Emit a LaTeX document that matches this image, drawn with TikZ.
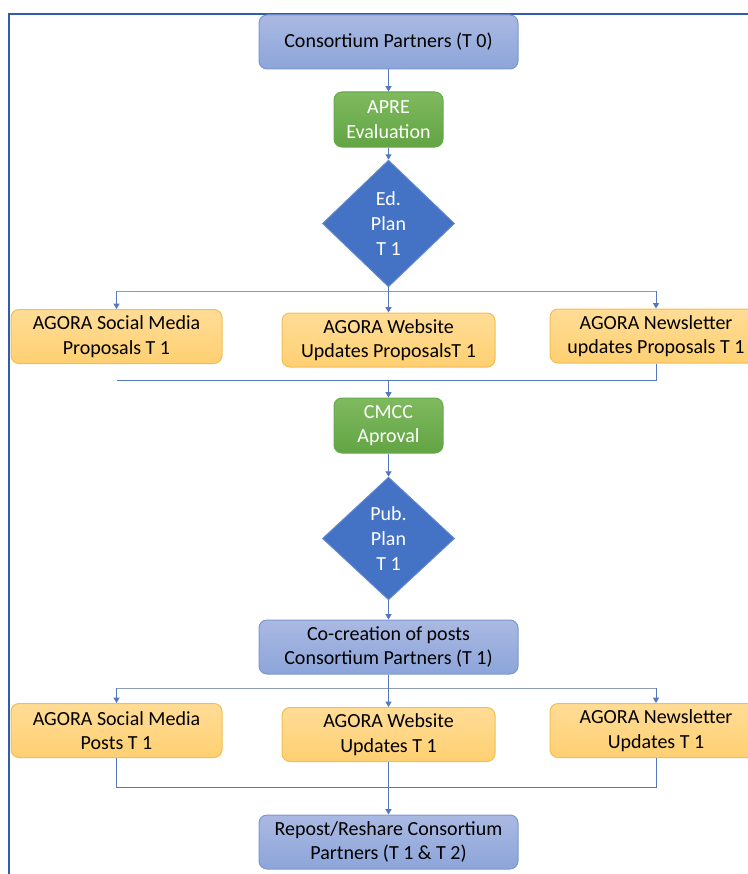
\documentclass[tikz,border=0pt]{standalone}
\usepackage{fontspec}
\setmainfont{Carlito}
\usetikzlibrary{shapes.geometric,arrows.meta}

\definecolor{frameblue}{RGB}{47,93,170}
\definecolor{boxbluetop}{RGB}{170,185,226}
\definecolor{boxbluebot}{RGB}{140,165,218}
\definecolor{boxblueline}{RGB}{124,151,208}
\definecolor{greentop}{RGB}{127,186,94}
\definecolor{greenbot}{RGB}{98,164,68}
\definecolor{greenline}{RGB}{104,168,76}
\definecolor{orangetop}{RGB}{255,220,150}
\definecolor{orangebot}{RGB}{255,208,114}
\definecolor{orangeline}{RGB}{242,190,80}
\definecolor{diamondblue}{RGB}{68,114,196}
\definecolor{linkblue}{RGB}{84,120,190}
\definecolor{forkgrey}{RGB}{140,154,178}

\tikzset{every picture/.style={line width=0.75pt}}
\tikzset{
  boxtext/.style={font=\fontsize{15}{18.5}\selectfont, align=center, inner sep=0pt},
  bluebox/.style={boxtext, draw=boxblueline, top color=boxbluetop, bottom color=boxbluebot,
    rounded corners=6pt, minimum width=194.25pt, minimum height=40.5pt},
  greenbox/.style={boxtext, draw=greenline, top color=greentop, bottom color=greenbot,
    text=white, rounded corners=6pt, minimum width=81.75pt, minimum height=41.25pt},
  orangebox/.style={boxtext, draw=orangeline, top color=orangetop, bottom color=orangebot,
    rounded corners=6pt, minimum height=40.5pt},
  decision/.style={boxtext, diamond, draw=diamondblue!85!white, fill=diamondblue,
    text=white, minimum width=99pt},
  flow/.style={draw=linkblue, -{Triangle[length=4pt,width=4.5pt]}},
  link/.style={draw=linkblue},
  forkline/.style={draw=forkgrey}
}

\begin{document}
\begin{tikzpicture}[x=0.75pt,y=0.75pt,yscale=-1,xscale=1]
\useasboundingbox (0,0) rectangle (748,874);
\clip (0,0) rectangle (748,874);

%Frame
\draw [frameblue, line width=1.5pt] (9,880) -- (9,14) -- (760,14) ;

%Nodes: first part
\node [bluebox] (partners) at (388.5,42) {Consortium Partners (T 0)};
\node [greenbox] (apre) at (388.5,119.5) {APRE\\Evaluation};
\node [decision, minimum height=95pt] (edplan) at (388.5,223.5) {Ed.\\Plan\\T 1};
\coordinate (edfork) at (388.5,291);
\node [orangebox, minimum width=158.25pt] (smprop) at (116.5,336.5) {AGORA Social Media\\Proposals T 1};
\node [orangebox, minimum width=159.75pt] (webprop) at (388.5,340) {AGORA Website\\Updates ProposalsT 1};
\node [orangebox, minimum width=159pt] (nlprop) at (656,336) {AGORA Newsletter\\updates Proposals T 1};
\coordinate (propjoin) at (388.5,380);
\node [greenbox] (cmcc) at (388.5,425.5) {CMCC\\Aproval};

%Nodes: second part
\node [decision, minimum height=92pt] (pubplan) at (388.5,538.5) {Pub.\\Plan\\T 1};
\node [bluebox] (cocreate) at (388.5,647) {Co-creation of posts\\Consortium Partners (T 1)};
\coordinate (postfork) at (388.5,688);
\node [orangebox, minimum width=158.25pt] (smpost) at (116.5,730.5) {AGORA Social Media\\Posts T 1};
\node [orangebox, minimum width=159.75pt] (webpost) at (388.5,734.5) {AGORA Website\\Updates T 1};
\node [orangebox, minimum width=159pt] (nlpost) at (656,730.5) {AGORA Newsletter\\Updates T 1};
\coordinate (postjoin) at (388.5,787);
\node [bluebox] (repost) at (388.5,842) {Repost/Reshare Consortium\\Partners (T 1 \& T 2)};

%Connectors: first part
\draw [flow] (partners) -- (apre) ;
\draw [flow] (apre) -- (edplan) ;
\draw [link] (edplan) -- (edfork) ;
\draw [forkline] (edfork -| smprop) -- (edfork -| nlprop) ;
\draw [flow] (edfork -| smprop) -- (smprop) ;
\draw [flow] (edfork) -- (webprop) ;
\draw [flow] (edfork -| nlprop) -- (nlprop) ;
\draw [link] (nlprop) |- (propjoin -| smprop) ;
\draw [flow] (propjoin) -- (cmcc) ;
\draw [flow] (cmcc) -- (pubplan) ;

%Connectors: second part
\draw [flow] (pubplan) -- (cocreate) ;
\draw [link] (cocreate) -- (postfork) ;
\draw [forkline] (postfork -| smpost) -- (postfork -| nlpost) ;
\draw [flow] (postfork -| smpost) -- (smpost) ;
\draw [flow] (postfork) -- (webpost) ;
\draw [flow] (postfork -| nlpost) -- (nlpost) ;
\draw [link] (smpost) |- (postjoin) -| (nlpost) ;
\draw [flow] (webpost) -- (repost) ;

\end{tikzpicture}
\end{document}
